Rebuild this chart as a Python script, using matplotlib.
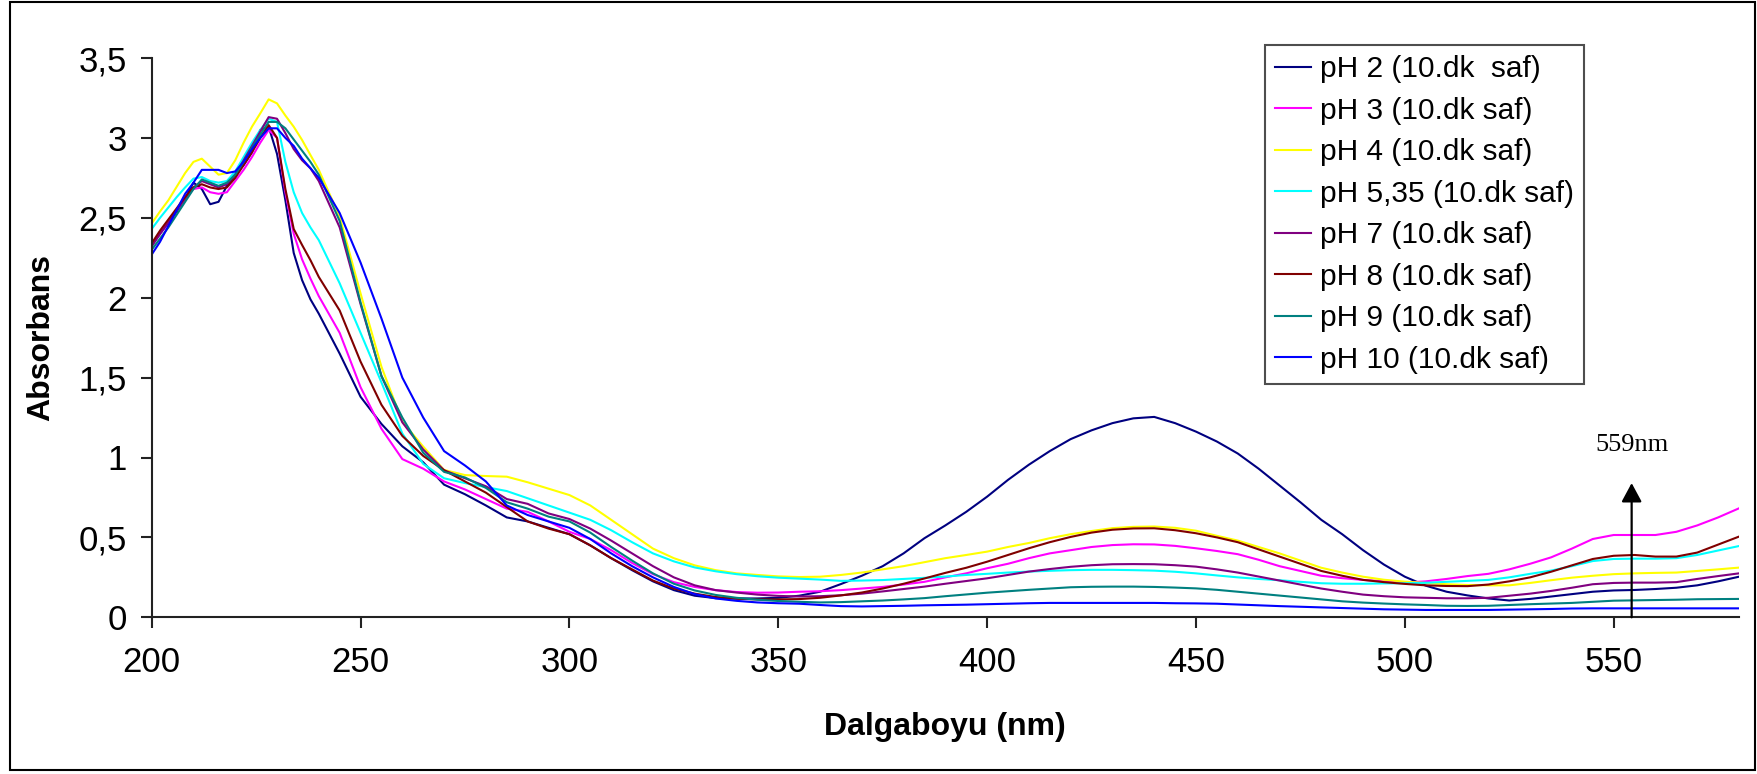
import numpy as np
import matplotlib
matplotlib.use("Agg")
import matplotlib.pyplot as plt
from matplotlib.patches import Rectangle

plt.rcParams['font.family'] = ['Liberation Sans', 'DejaVu Sans']

# Wavelength grid (nm): 2 nm steps in the UV band, 5 nm steps above 240 nm
wavelength = np.concatenate([np.arange(200, 241, 2), np.arange(245, 581, 5)])

ph2 = [2.33, 2.40, 2.47, 2.54, 2.62, 2.72, 2.68, 2.585, 2.60, 2.70, 2.77, 2.83, 2.91, 3.05, 3.07, 2.90, 2.61, 2.28, 2.11, 1.99, 1.90,
       1.65, 1.38, 1.21, 1.07, 0.97, 0.83, 0.77, 0.70, 0.625, 0.60, 0.56, 0.52,
       0.45, 0.37, 0.295, 0.225, 0.17, 0.135, 0.12, 0.118, 0.118, 0.122, 0.135, 0.16, 0.208, 0.26, 0.32, 0.40, 0.495, 0.575, 0.66, 0.755,
       0.86, 0.955, 1.04, 1.115, 1.17, 1.215, 1.245, 1.254, 1.215, 1.162, 1.10, 1.025, 0.93, 0.825, 0.72, 0.61, 0.52, 0.42, 0.33, 0.254,
       0.198, 0.16, 0.137, 0.118, 0.105, 0.115, 0.13, 0.145, 0.16, 0.168, 0.171, 0.177, 0.185, 0.20, 0.225, 0.254]

ph3 = [2.33, 2.40, 2.47, 2.55, 2.62, 2.68, 2.69, 2.66, 2.65, 2.66, 2.73, 2.80, 2.88, 2.97, 3.05, 3.00, 2.66, 2.40, 2.24, 2.12, 2.01,
       1.78, 1.44, 1.18, 0.99, 0.93, 0.85, 0.80, 0.74, 0.68, 0.66, 0.60, 0.535,
       0.49, 0.42, 0.34, 0.27, 0.22, 0.19, 0.17, 0.158, 0.154, 0.155, 0.16, 0.163, 0.17, 0.18, 0.19, 0.205, 0.222, 0.25, 0.275, 0.307,
       0.335, 0.37, 0.40, 0.42, 0.44, 0.452, 0.457, 0.456, 0.447, 0.432, 0.415, 0.395, 0.36, 0.32, 0.29, 0.26, 0.245, 0.234, 0.225, 0.217,
       0.225, 0.24, 0.258, 0.272, 0.30, 0.335, 0.375, 0.43, 0.49, 0.515, 0.515, 0.515, 0.535, 0.575, 0.625, 0.682]

ph4 = [2.465, 2.54, 2.61, 2.695, 2.78, 2.85, 2.87, 2.82, 2.77, 2.78, 2.86, 2.97, 3.07, 3.154, 3.241, 3.216, 3.14, 3.07, 2.987, 2.893, 2.80,
       2.507, 2.027, 1.568, 1.224, 1.068, 0.922, 0.89, 0.884, 0.88, 0.845, 0.805, 0.765,
       0.70, 0.61, 0.52, 0.43, 0.37, 0.325, 0.295, 0.275, 0.265, 0.256, 0.252, 0.254, 0.265, 0.28, 0.30, 0.32, 0.345, 0.37, 0.39, 0.411,
       0.44, 0.465, 0.495, 0.52, 0.54, 0.558, 0.566, 0.568, 0.56, 0.542, 0.51, 0.48, 0.44, 0.40, 0.355, 0.31, 0.28, 0.254, 0.235, 0.223,
       0.215, 0.207, 0.202, 0.20, 0.20, 0.215, 0.232, 0.248, 0.26, 0.27, 0.275, 0.278, 0.28, 0.29, 0.30, 0.311]

ph535 = [2.43, 2.50, 2.565, 2.63, 2.69, 2.745, 2.755, 2.73, 2.72, 2.73, 2.79, 2.88, 2.97, 3.05, 3.12, 3.10, 2.85, 2.66, 2.53, 2.44, 2.36,
         2.09, 1.78, 1.47, 1.15, 0.96, 0.87, 0.84, 0.815, 0.79, 0.745, 0.70, 0.655,
         0.61, 0.545, 0.47, 0.40, 0.35, 0.312, 0.288, 0.27, 0.257, 0.248, 0.242, 0.236, 0.228, 0.23, 0.233, 0.24, 0.247, 0.255, 0.265, 0.272,
         0.28, 0.286, 0.291, 0.295, 0.297, 0.297, 0.295, 0.292, 0.285, 0.275, 0.262, 0.25, 0.24, 0.232, 0.222, 0.213, 0.21, 0.21, 0.212, 0.213,
         0.216, 0.222, 0.228, 0.234, 0.25, 0.272, 0.292, 0.32, 0.352, 0.365, 0.367, 0.367, 0.37, 0.39, 0.418, 0.446]

ph7 = [2.32, 2.40, 2.47, 2.55, 2.62, 2.69, 2.73, 2.71, 2.69, 2.71, 2.77, 2.86, 2.95, 3.04, 3.13, 3.12, 3.03, 2.93, 2.86, 2.81, 2.73,
       2.44, 1.96, 1.51, 1.22, 1.05, 0.92, 0.87, 0.82, 0.74, 0.71, 0.65, 0.615,
       0.555, 0.48, 0.40, 0.32, 0.25, 0.20, 0.17, 0.155, 0.142, 0.134, 0.13, 0.132, 0.138, 0.148, 0.162, 0.177, 0.192, 0.21, 0.227, 0.244,
       0.265, 0.286, 0.302, 0.316, 0.326, 0.332, 0.333, 0.332, 0.326, 0.317, 0.30, 0.28, 0.255, 0.23, 0.205, 0.18, 0.16, 0.142, 0.132, 0.125,
       0.122, 0.119, 0.119, 0.122, 0.135, 0.148, 0.165, 0.185, 0.207, 0.215, 0.217, 0.217, 0.22, 0.24, 0.258, 0.275]

ph8 = [2.34, 2.42, 2.49, 2.56, 2.63, 2.69, 2.71, 2.69, 2.68, 2.69, 2.75, 2.83, 2.91, 3.00, 3.08, 3.00, 2.68, 2.43, 2.33, 2.235, 2.13,
       1.92, 1.60, 1.33, 1.135, 1.01, 0.92, 0.85, 0.78, 0.69, 0.60, 0.555, 0.52,
       0.45, 0.37, 0.30, 0.23, 0.18, 0.148, 0.127, 0.116, 0.112, 0.112, 0.114, 0.122, 0.137, 0.155, 0.18, 0.21, 0.243, 0.278, 0.31, 0.348,
       0.39, 0.432, 0.47, 0.503, 0.53, 0.548, 0.556, 0.557, 0.545, 0.526, 0.50, 0.47, 0.425, 0.38, 0.335, 0.29, 0.26, 0.234, 0.22, 0.209,
       0.20, 0.196, 0.195, 0.205, 0.225, 0.25, 0.285, 0.325, 0.365, 0.385, 0.39, 0.38, 0.38, 0.405, 0.455, 0.505]

ph9 = [2.30, 2.37, 2.44, 2.52, 2.60, 2.68, 2.74, 2.72, 2.70, 2.72, 2.77, 2.85, 2.94, 3.02, 3.10, 3.10, 3.06, 2.99, 2.92, 2.85, 2.77,
       2.48, 1.97, 1.51, 1.25, 1.03, 0.91, 0.875, 0.81, 0.72, 0.68, 0.63, 0.60,
       0.53, 0.44, 0.355, 0.275, 0.21, 0.168, 0.14, 0.122, 0.11, 0.102, 0.097, 0.093, 0.095, 0.10, 0.105, 0.112, 0.12, 0.132, 0.143, 0.154,
       0.163, 0.172, 0.18, 0.188, 0.191, 0.192, 0.192, 0.19, 0.186, 0.181, 0.172, 0.16, 0.148, 0.136, 0.124, 0.112, 0.10, 0.092, 0.086, 0.081,
       0.077, 0.072, 0.071, 0.072, 0.077, 0.082, 0.086, 0.09, 0.097, 0.104, 0.106, 0.108, 0.11, 0.113, 0.114, 0.115]

ph10 = [2.27, 2.35, 2.45, 2.55, 2.65, 2.72, 2.80, 2.80, 2.80, 2.78, 2.79, 2.85, 2.93, 3.00, 3.06, 3.06, 3.00, 2.95, 2.87, 2.81, 2.75,
        2.53, 2.22, 1.87, 1.50, 1.25, 1.04, 0.95, 0.85, 0.70, 0.64, 0.60, 0.56,
        0.49, 0.40, 0.32, 0.25, 0.19, 0.145, 0.118, 0.103, 0.093, 0.088, 0.085, 0.077, 0.07, 0.068, 0.07, 0.072, 0.075, 0.077, 0.079, 0.082,
        0.085, 0.088, 0.09, 0.09, 0.09, 0.09, 0.09, 0.09, 0.088, 0.087, 0.085, 0.08, 0.075, 0.07, 0.066, 0.062, 0.058, 0.054, 0.05, 0.048,
        0.046, 0.046, 0.046, 0.046, 0.048, 0.05, 0.052, 0.055, 0.056, 0.056, 0.056, 0.056, 0.056, 0.056, 0.056, 0.056]

series_labels = ["pH 2 (10.dk  saf)", "pH 3 (10.dk saf)", "pH 4 (10.dk saf)", "pH 5,35 (10.dk saf)",
                 "pH 7 (10.dk saf)", "pH 8 (10.dk saf)", "pH 9 (10.dk saf)", "pH 10 (10.dk saf)"]
series_values = [ph2, ph3, ph4, ph535, ph7, ph8, ph9, ph10]
series_colors = ["#000080", "#FF00FF", "#FFFF00", "#00FFFF", "#800080", "#800000", "#008080", "#0000FF"]

x_ticks = [200, 250, 300, 350, 400, 450, 500, 550]
y_ticks = [0, 0.5, 1, 1.5, 2, 2.5, 3, 3.5]
y_tick_labels = ["0", "0,5", "1", "1,5", "2", "2,5", "3", "3,5"]

marker_nm = 554.3
marker_top = 0.84
marker_label = "559nm"

W, H = 1757, 774
fig = plt.figure(figsize=(W / 100, H / 100), dpi=100)
fig.patch.set_facecolor("white")

# outer frame around the whole chart
fig.patches.append(Rectangle((10 / W, 4 / H), (1755 - 10) / W, (772.5 - 4) / H,
                             transform=fig.transFigure, fill=False,
                             edgecolor="black", linewidth=1.5))

ax = fig.add_axes([151.7 / W, (H - 617.3) / H, (1739 - 151.7) / W, (617.3 - 58) / H])

for vals, lab, col in zip(series_values, series_labels, series_colors):
    assert len(vals) == len(wavelength)
    ax.plot(wavelength, vals, color=col, lw=1.5, label=lab)

ax.set_xlim(200, 580)
ax.set_ylim(0, 3.5)
ax.set_xticks(x_ticks)
ax.set_yticks(y_ticks)
ax.set_yticklabels(y_tick_labels)

for side in ("top", "right"):
    ax.spines[side].set_visible(False)
for side in ("left", "bottom"):
    ax.spines[side].set_linewidth(1.5)
    ax.spines[side].set_color("#222222")

ax.tick_params(axis="both", direction="out", length=8, width=1.5, color="#222222",
               labelsize=25, labelcolor="black")
ax.tick_params(axis="x", pad=13)
ax.tick_params(axis="y", pad=10)

ax.set_xlabel("Dalgaboyu (nm)", fontsize=23, fontweight="bold", va="center")
ax.xaxis.set_label_coords(0.5, -0.196)
ax.set_ylabel("Absorbans", fontsize=23, fontweight="bold", va="center")
ax.yaxis.set_label_coords(-0.0695, 0.5)

# arrow marking the 559 nm band
ax.annotate("", xy=(marker_nm, marker_top), xytext=(marker_nm, 0),
            arrowprops=dict(arrowstyle="-|>,head_length=1.15,head_width=0.62",
                            mutation_scale=10, lw=1.6, color="black",
                            shrinkA=0, shrinkB=0))
ax.text(marker_nm, 1.078, marker_label, ha="center", va="center",
        fontsize=19, family="Liberation Serif", color="black")

leg = ax.legend(loc="upper left", bbox_to_anchor=(1265 / W, 1 - 45 / H),
                bbox_transform=fig.transFigure, fontsize=21.5, frameon=True,
                fancybox=False, shadow=False, borderpad=0.35, labelspacing=0.45,
                handlelength=1.2, handletextpad=0.28, borderaxespad=0)
leg.get_frame().set_edgecolor("#222222")
leg.get_frame().set_linewidth(1.5)
for h in leg.get_lines():
    h.set_linewidth(1.5)

fig.savefig("out.png", dpi=100, facecolor="white")
